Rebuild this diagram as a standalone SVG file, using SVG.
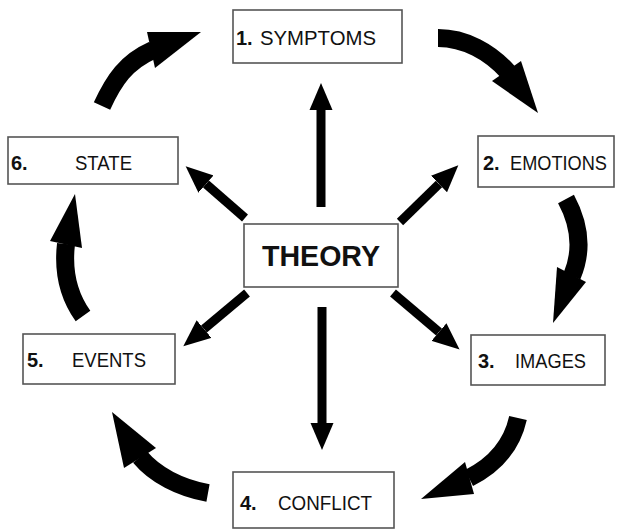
<svg xmlns="http://www.w3.org/2000/svg" width="617" height="530" viewBox="0 0 617 530">
<defs>
<style>
.box{fill:#fff;stroke:#555;stroke-width:1.6}
.num{font-family:"Liberation Sans",Arial,sans-serif;font-weight:bold;font-size:20px;fill:#111}
.lbl{font-family:"Liberation Sans",Arial,sans-serif;font-size:19.5px;fill:#111}
.big{font-family:"Liberation Sans",Arial,sans-serif;font-weight:bold;font-size:29px;fill:#111}
.shaft{fill:none;stroke:#000;stroke-width:9;stroke-linecap:butt}
.curve{fill:none;stroke:#000;stroke-width:18;stroke-linecap:butt}
.head{fill:#000}
</style>
<marker id="ah" markerUnits="userSpaceOnUse" markerWidth="28" markerHeight="24" refX="0" refY="11.5" orient="auto" viewBox="0 0 28 23">
<path d="M0,0 L27,11.5 L0,23 z" fill="#000"/>
</marker>
</defs>
<rect width="617" height="530" fill="#fff"/>
<g id="connectors">
<line class="shaft" x1="321" y1="207" x2="321" y2="110" marker-end="url(#ah)"/>
<line class="shaft" x1="322" y1="307" x2="322" y2="423" marker-end="url(#ah)"/>
<line class="shaft" x1="245" y1="218" x2="206" y2="184" marker-end="url(#ah)"/>
<line class="shaft" x1="400" y1="222" x2="439" y2="184" marker-end="url(#ah)"/>
<line class="shaft" x1="247" y1="293" x2="204" y2="329" marker-end="url(#ah)"/>
<line class="shaft" x1="393" y1="293" x2="439" y2="332" marker-end="url(#ah)"/>
<path class="curve" d="M102 106 C114 80 126 62 153 50"/>
<polygon class="head" points="147,32 201,32 155,68"/>
<path class="curve" d="M438 38 C465 38 490 52 508 72"/>
<polygon class="head" points="492,81 521,61 538,113"/>
<path class="curve" d="M566 199 C580 225 583 250 572 276"/>
<polygon class="head" points="557,267 586,282 553,323"/>
<path class="curve" d="M518 418 C512 445 495 465 469 478"/>
<polygon class="head" points="465,462 474,494 421,499"/>
<path class="curve" d="M208 493 C180 488 155 475 140 457"/>
<polygon class="head" points="124,468 156,448 112,412"/>
<path class="curve" d="M83 316 C68 295 63 270 66 244"/>
<polygon class="head" points="50,241 82,248 75,194"/>
</g>
<g id="n1"><rect class="box" x="233" y="10" width="169" height="53"/><text class="num" x="236" y="45">1.</text><text class="lbl" x="260" y="45" textLength="116" lengthAdjust="spacingAndGlyphs">SYMPTOMS</text></g>
<g id="n2"><rect class="box" x="478" y="136" width="136" height="51"/><text class="num" x="483" y="170">2.</text><text class="lbl" x="510" y="170" textLength="97" lengthAdjust="spacingAndGlyphs">EMOTIONS</text></g>
<g id="n3"><rect class="box" x="471" y="335" width="134" height="50"/><text class="num" x="478" y="368">3.</text><text class="lbl" x="515" y="368" textLength="71" lengthAdjust="spacingAndGlyphs">IMAGES</text></g>
<g id="n4"><rect class="box" x="233" y="472" width="161" height="56"/><text class="num" x="240" y="510">4.</text><text class="lbl" x="278" y="510" textLength="94" lengthAdjust="spacingAndGlyphs">CONFLICT</text></g>
<g id="n5"><rect class="box" x="23" y="334" width="152" height="50"/><text class="num" x="27" y="367">5.</text><text class="lbl" x="72" y="367" textLength="74" lengthAdjust="spacingAndGlyphs">EVENTS</text></g>
<g id="n6"><rect class="box" x="8" y="137" width="170" height="47"/><text class="num" x="11" y="170">6.</text><text class="lbl" x="75" y="170" textLength="57" lengthAdjust="spacingAndGlyphs">STATE</text></g>
<g id="theory"><rect class="box" x="244" y="224" width="154" height="63"/><text class="big" x="262" y="266" textLength="118" lengthAdjust="spacingAndGlyphs">THEORY</text></g>
</svg>
